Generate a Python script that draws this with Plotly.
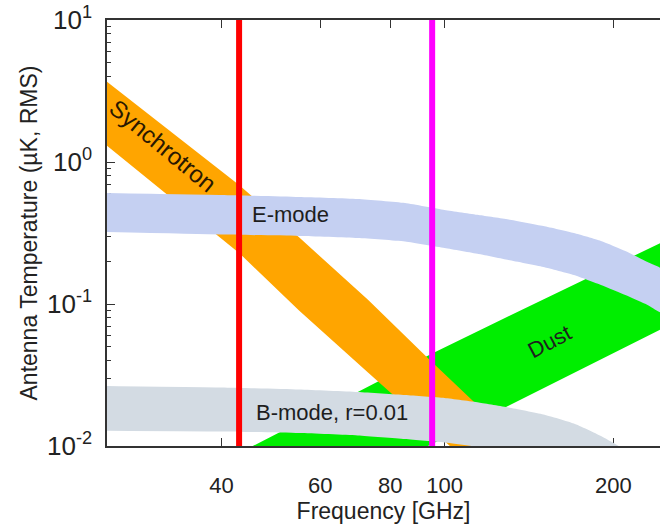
import plotly.graph_objects as go
import math

# ---------------- data ----------------
sync_freq = [25, 43, 55, 73, 94, 130]
sync_upper = [3.68, 0.69, 0.295, 0.107, 0.0405, 0.012]
sync_lower = [1.30, 0.229, 0.090, 0.0329, 0.0135, 0.0042]

dust_freq = [25, 40, 70, 95, 127, 175, 245]
dust_upper = [0.0030, 0.0077, 0.0240, 0.0448, 0.0785, 0.145, 0.274]
dust_lower = [0.00074, 0.00187, 0.00565, 0.0103, 0.0184, 0.0346, 0.0673]

emode_freq = [25, 40, 55, 70, 85, 100, 115, 130, 150, 170, 190, 210, 230, 245]
emode_upper = [0.605, 0.586, 0.567, 0.549, 0.514, 0.459, 0.423, 0.394, 0.354,
               0.316, 0.278, 0.236, 0.1976, 0.1736]
emode_lower = [0.321, 0.3087, 0.3013, 0.2916, 0.2755, 0.2480, 0.2250, 0.2041,
               0.1823, 0.1600, 0.1361, 0.1157, 0.0985, 0.0864]

bmode_freq = [25, 40, 55, 70, 85, 100, 115, 130, 150, 170, 190, 210, 230]
bmode_upper = [0.02645, 0.02582, 0.02500, 0.02401, 0.02286, 0.02178, 0.02025,
               0.01866, 0.01667, 0.01440, 0.01176, 0.00937, 0.00734]
bmode_lower = [0.01281, 0.01265, 0.01234, 0.01186, 0.01120, 0.01058, 0.00984,
               0.00907, 0.00810, 0.00700, 0.00576, 0.00452, 0.00354]

band_lines = [43, 95]
band_line_colors = ["#ff0000", "#ff00ff"]

x_tick_vals = [40, 60, 80, 100, 200]
x_tick_text = ["40", "60", "80", "100", "200"]
y_tick_vals = [0.01, 0.1, 1, 10]
y_tick_text = ["10<sup>-2</sup>", "10<sup>-1</sup>", "10<sup>0</sup>", "10<sup>1</sup>"]
y_minor_vals = [m * 10.0 ** e for e in (-2, -1, 0) for m in range(2, 10)]

FONT = "Liberation Sans, Arial, Helvetica, sans-serif"


def band(freq, upper, lower, color, name, smooth=False):
    line = dict(width=0, color=color)
    if smooth:
        line.update(shape="spline", smoothing=0.5)
    return go.Scatter(
        x=list(freq) + list(freq[::-1]),
        y=list(upper) + list(lower[::-1]),
        fill="toself", fillcolor=color, mode="lines",
        line=line, name=name, hoverinfo="name", showlegend=False,
    )


fig = go.Figure()
fig.add_trace(band(dust_freq, dust_upper, dust_lower, "#00ee00", "Dust"))
fig.add_trace(band(sync_freq, sync_upper, sync_lower, "#ffa500", "Synchrotron"))
fig.add_trace(band(emode_freq, emode_upper, emode_lower, "#c5d0f2", "E-mode", True))
fig.add_trace(band(bmode_freq, bmode_upper, bmode_lower, "#d3dbe3", "B-mode", True))

for f, c in zip(band_lines, band_line_colors):
    fig.add_trace(go.Scatter(x=[f, f], y=[0.01, 10], mode="lines",
                             line=dict(color=c, width=6), showlegend=False,
                             hoverinfo="skip"))

txt = dict(family=FONT, size=22, color="#1e1e1e")
fig.add_annotation(x=math.log10(31.4), y=0.113, text="Synchrotron", showarrow=False,
                   textangle=39.5, font=dict(family=FONT, size=24, color="#2a1800"))
fig.add_annotation(x=math.log10(53.2), y=-0.373, text="E-mode", showarrow=False, font=txt)
fig.add_annotation(x=math.log10(62.9), y=-1.764, text="B-mode, r=0.01", showarrow=False, font=txt)
fig.add_annotation(x=math.log10(154), y=-1.2655, text="Dust", showarrow=False,
                   textangle=-28, font=txt)

fig.update_xaxes(
    type="log", range=[math.log10(25), 2.384],
    tickmode="array", tickvals=x_tick_vals, ticktext=x_tick_text,
    ticks="inside", ticklen=8, tickwidth=1, tickcolor="#333",
    showline=True, linecolor="#333", linewidth=1.5, mirror="ticks",
    showgrid=False, zeroline=False, layer="below traces",
    tickfont=dict(family=FONT, size=22, color="#222"),
    ticklabelstandoff=19,
    title=dict(text="Frequency [GHz]", font=dict(family=FONT, size=23, color="#222"), standoff=0),
)
fig.update_yaxes(
    type="log", range=[-2, 1],
    tickmode="array", tickvals=y_tick_vals, ticktext=y_tick_text,
    ticks="inside", ticklen=8, tickwidth=1, tickcolor="#333",
    minor=dict(tickmode="array", tickvals=y_minor_vals, ticks="inside", ticklen=4,
               tickcolor="#333", tickwidth=1, showgrid=False),
    showline=True, linecolor="#333", linewidth=1.5, mirror=False,
    showgrid=False, zeroline=False, layer="below traces",
    tickfont=dict(family=FONT, size=26, color="#222"),
    ticklabelstandoff=8,
    title=dict(text="Antenna Temperature (µK, RMS)", font=dict(family=FONT, size=23, color="#222"), standoff=3),
)

fig.update_layout(
    width=660, height=529,
    margin=dict(l=107, r=0, t=20, b=83),
    paper_bgcolor="white", plot_bgcolor="white",
    showlegend=False,
)

fig.write_html("out.html")
